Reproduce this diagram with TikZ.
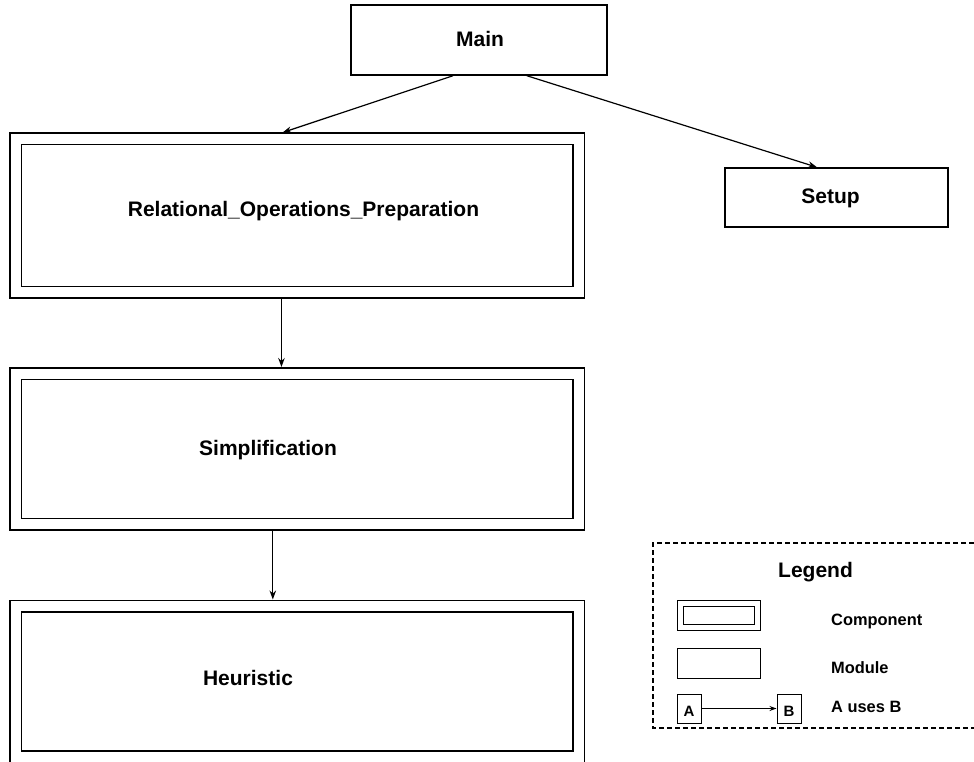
\documentclass[tikz,border=0pt]{standalone}
\usepackage{fontspec}
\setmainfont{Liberation Sans}
\usetikzlibrary{arrows.meta,calc}
\begin{document}
\begin{tikzpicture}[x=1pt,y=-1pt,
  module/.style={draw, rectangle, line width=1.5pt, inner sep=0pt},
  component/.style={draw, rectangle, line width=1.5pt, double, double distance=10pt, inner sep=0pt, outer sep=6.5pt, minimum width=563pt},
  bigtext/.style={font=\bfseries\fontsize{21}{25}\selectfont, inner sep=0pt, anchor=base},
  smalltext/.style={font=\bfseries\fontsize{16.4}{20}\selectfont, inner sep=0pt, anchor=base west},
  arr/.style={line width=1.2pt, -{Stealth[length=9pt,width=6.5pt]}},
  smallarr/.style={line width=1pt, -{Stealth[length=7pt,width=5pt]}},
  legendframe/.style={line width=1.1pt, dash pattern=on 5pt off 3pt},
  legcomp/.style={draw, rectangle, line width=1pt, double, double distance=5pt, inner sep=0pt, outer sep=3.5pt},
  legmod/.style={draw, rectangle, line width=1pt, inner sep=0pt},
  letterbox/.style={draw, rectangle, line width=1pt, inner sep=0pt, minimum width=24pt, minimum height=29pt, text height=16pt, font=\bfseries\fontsize{15}{18}\selectfont}
]
\useasboundingbox (0,0) rectangle (974,762);

% module boxes
\node[module, minimum width=256pt, minimum height=70pt] (main) at (479,40) {};
\node[bigtext] (maint) at (480,47) {Main};
\node[module, minimum width=223pt, minimum height=59pt] (setup) at (836.5,197.5) {};
\node[bigtext] (setupt) at (830.5,204) {Setup};

% components
\node[component, minimum height=153pt] (rel) at (297,215.5) {};
\node[bigtext] (relt) at (303.5,217) {Relational\_Operations\_Preparation};
\node[component, minimum height=150.5pt] (simp) at (297,448.75) {};
\node[bigtext] (simpt) at (268,455) {Simplification};
\node[component, minimum height=150.5pt] (heur) at (297,681.25) {};
\node[bigtext] (heurt) at (248,685) {Heuristic};

% connectors
\draw[arr] ($(main.south west)!0.399!(main.south east)$) -- ($(rel.north west)!0.475!(rel.north east)$);
\draw[arr] ($(main.south west)!0.686!(main.south east)$) -- ($(setup.north west)!0.413!(setup.north east)$);
\draw[arr] ($(rel.south west)!0.473!(rel.south east)$) coordinate (c1) -- (c1 |- simp.north);
\draw[arr] ($(simp.south west)!0.458!(simp.south east)$) coordinate (c2) -- (c2 |- heur.north);

% legend
\draw[legendframe] (974,543) -- (653,543) -- (653,728) -- (974,728);
\node[bigtext] (legt) at (815.5,577) {Legend};
\node[legcomp, minimum width=77.5pt, minimum height=24pt] (lcomp) at (718.75,615) {};
\node[smalltext] (lcompt) at (831,625) {Component};
\node[legmod, minimum width=83pt, minimum height=30pt] (lmod) at (718.5,663) {};
\node[smalltext] (lmodt) at (831,673) {Module};
\node[letterbox] (la) at (689,708.5) {A};
\node[letterbox] (lb) at (789,708.5) {B};
\draw[smallarr] (la) -- (lb);
\node[smalltext] (lusest) at (831,712) {A uses B};
\end{tikzpicture}
\end{document}
